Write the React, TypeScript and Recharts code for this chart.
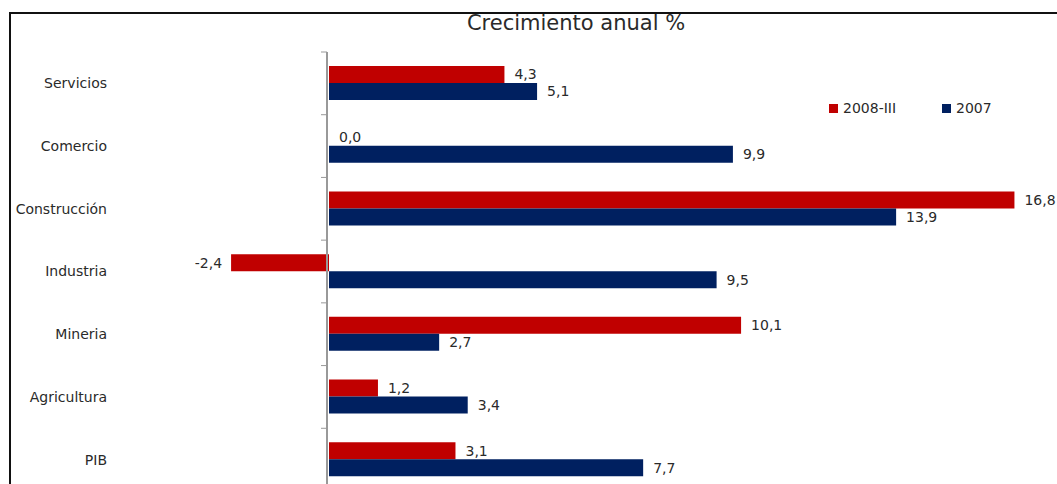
import { Bar, BarChart, LabelList, Legend, ReferenceLine, XAxis, YAxis } from 'recharts'

const categories = ['Servicios', 'Comercio', 'Construcción', 'Industria', 'Mineria', 'Agricultura', 'PIB']
const values2008III = [4.3, 0.0, 16.8, -2.4, 10.1, 1.2, 3.1]
const values2007 = [5.1, 9.9, 13.9, 9.5, 2.7, 3.4, 7.7]

const SERIES = [
  { key: 's2008', label: '2008-III', color: '#C00000' },
  { key: 's2007', label: '2007', color: '#002060' },
]

const data = categories.map((name, i) => ({
  name,
  s2008: values2008III[i],
  s2007: values2007[i],
}))

const fmt = (v: number) => v.toFixed(1).replace('.', ',')

// value label to the right of positive bars, left of negative ones
function ValueLabel(props: any) {
  const { x, y, width, height, value } = props
  const left = Math.min(x, x + width)
  const right = Math.max(x, x + width)
  const neg = value < 0
  return (
    <text
      x={neg ? left - 9 : right + 10}
      y={y + height / 2}
      dy="0.35em"
      textAnchor={neg ? 'end' : 'start'}
      fontSize={14}
      fill="#2a2a2a"
    >
      {fmt(Number(value))}
    </text>
  )
}

// zero line with small ticks at category boundaries
function ZeroAxis(props: any) {
  const { x1, y1, y2 } = props
  const top = Math.min(y1, y2)
  const bottom = Math.max(y1, y2)
  const step = (bottom - top) / categories.length
  const lx = x1 - 2
  return (
    <g>
      <line x1={lx} x2={lx} y1={top} y2={bottom} stroke="#999" strokeWidth={2} />
      {categories.map((_, i) => (
        <line key={i} x1={lx - 6} x2={lx} y1={top + step * i} y2={top + step * i} stroke="#999" strokeWidth={1} />
      ))}
    </g>
  )
}

function LegendContent() {
  return (
    <div style={{ display: 'flex', alignItems: 'center', fontSize: 14, color: '#2a2a2a' }}>
      {SERIES.map((s, i) => (
        <div key={s.key} style={{ display: 'flex', alignItems: 'center', width: i === 0 ? 113 : 'auto' }}>
          <span style={{ width: 9, height: 9, background: s.color, display: 'inline-block', marginRight: 5 }} />
          <span>{s.label}</span>
        </div>
      ))}
    </div>
  )
}

export default function App() {
  return (
    <div
      style={{
        position: 'absolute',
        left: 0,
        top: 0,
        width: 1057,
        height: 484,
        overflow: 'hidden',
        background: '#fff',
        fontFamily: '"DejaVu Sans", Verdana, sans-serif',
      }}
    >
      {/* frame */}
      <div
        style={{
          position: 'absolute',
          left: 9,
          top: 12,
          width: 1200,
          height: 600,
          borderLeft: '2px solid #111',
          borderTop: '2px solid #111',
        }}
      />
      <div
        style={{
          position: 'absolute',
          left: 376,
          width: 400,
          top: 11,
          textAlign: 'center',
          fontSize: 21,
          color: '#2a2a2a',
        }}
      >
        Crecimiento anual %
      </div>
      <div style={{ position: 'absolute', left: 0, top: 0 }}>
        <BarChart
          width={1070}
          height={517.5}
          data={data}
          layout="vertical"
          margin={{ top: 52, right: 6.6, left: 0, bottom: 10.5 }}
          barSize={17}
          barGap={0}
        >
          <XAxis type="number" domain={[-5, 18]} allowDataOverflow hide />
          <YAxis
            type="category"
            dataKey="name"
            width={125}
            axisLine={false}
            tickLine={false}
            tickMargin={12}
            tick={{ fill: '#2a2a2a', fontSize: 14 }}
          />
          <Legend
            content={<LegendContent />}
            wrapperStyle={{ position: 'absolute', top: 100, left: 829, width: 'auto' }}
          />
          {SERIES.map(s => (
            <Bar
              key={s.key}
              dataKey={s.key}
              name={s.label}
              fill={s.color}
              minPointSize={(v: number) => (v === 0 ? 0.01 : 0)}
              isAnimationActive={false}
            >
              <LabelList dataKey={s.key} content={<ValueLabel />} />
            </Bar>
          ))}
          <ReferenceLine x={0} shape={<ZeroAxis />} />
        </BarChart>
      </div>
    </div>
  )
}
